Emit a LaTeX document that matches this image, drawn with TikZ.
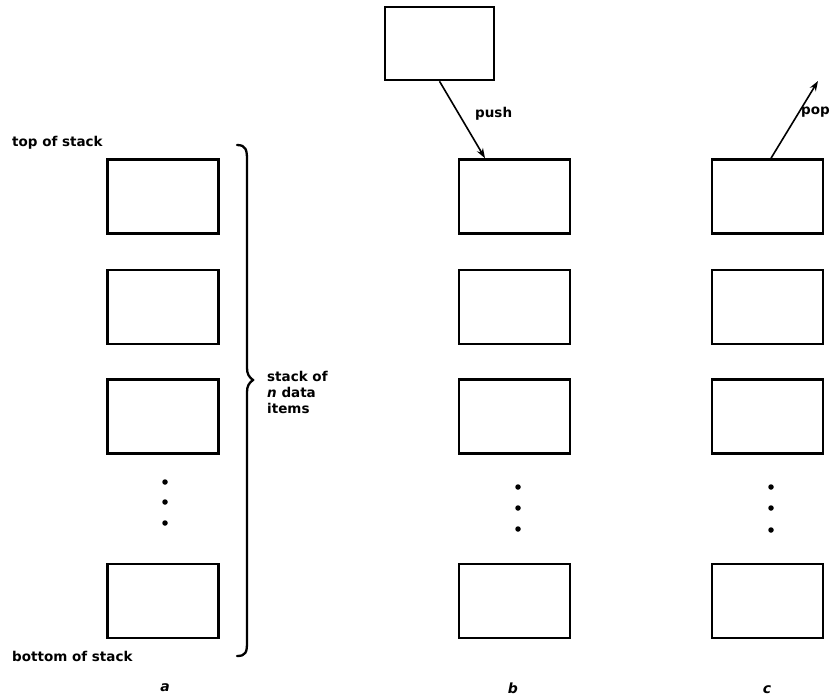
\documentclass[tikz,border=0pt]{standalone}
\usepackage{fontspec}
\setmainfont{DejaVu Sans}
\usetikzlibrary{arrows.meta,calc}
\begin{document}
\begin{tikzpicture}[x=1pt,y=-1pt,
  cell/.style={draw, line width=2.5pt, minimum width=111pt, minimum height=74pt, inner sep=0pt},
  lbl/.style={font=\fontsize{13.5}{16}\selectfont\bfseries, inner sep=0pt},
  sublbl/.style={font=\fontsize{14}{16}\selectfont\bfseries\itshape, inner sep=0pt},
  vdot/.style={circle, fill, inner sep=0pt, minimum size=5.5pt},
  arr/.style={line width=1.6pt, -{Stealth[length=10pt,width=7pt]}}]
\useasboundingbox (0,0) rectangle (835,698);
% column a
\node[cell] (a1) at (163,196.5) {};
\node[cell] (a2) at (163,307) {};
\node[cell] (a3) at (163,416.5) {};
\node[cell] (a4) at (163,601) {};
\node[vdot] (ad1) at (165,482) {};
\node[vdot] (ad2) at (165,502) {};
\node[vdot] (ad3) at (165,523) {};
% column b
\node[cell, minimum width=109pt, minimum height=73pt] (top) at (439.5,43.5) {};
\node[cell] (b1) at (514.5,196.5) {};
\node[cell] (b2) at (514.5,307) {};
\node[cell] (b3) at (514.5,416.5) {};
\node[cell] (b4) at (514.5,601) {};
\node[vdot] (bd1) at (518,487) {};
\node[vdot] (bd2) at (518,508) {};
\node[vdot] (bd3) at (518,529) {};
% column c
\node[cell] (c1) at (767.5,196.5) {};
\node[cell] (c2) at (767.5,307) {};
\node[cell] (c3) at (767.5,416.5) {};
\node[cell] (c4) at (767.5,601) {};
\node[vdot] (cd1) at (771,487) {};
\node[vdot] (cd2) at (771,508) {};
\node[vdot] (cd3) at (771,530) {};
% labels
\node[lbl, anchor=west] (tos) at (12,143) {top of stack};
\node[lbl, anchor=west] (bos) at (12,656) {bottom of stack};
\node[lbl, anchor=north west, align=left] (desc) at (267,371) {stack of\\\textit{n} data\\items};
\node[lbl, anchor=west] (pushl) at (475,114) {push};
\node[lbl, anchor=west] (popl) at (801,112) {pop};
\node[sublbl] (la) at (165,688) {a};
\node[sublbl] (lb) at (513,688) {b};
\node[sublbl] (lc) at (767,690) {c};
% brace
\draw[line width=2.3pt, line cap=round]
  (237,145) .. controls (246,145) and (247,150) .. (247,160)
  -- (247,368) .. controls (247,374) and (249,377) .. (253,380)
  .. controls (249,383) and (247,386) .. (247,392)
  -- (247,642) .. controls (247,652) and (246,656) .. (237,656);
% arrows
\coordinate (pushend) at ($(b1.north)+(-29.5,0)$);
\draw[arr] (top.south) -- (pushend);
\coordinate (popend) at (818,81);
\draw[arr] ($(c1.north)+(3.5,0)$) -- (popend);
\end{tikzpicture}
\end{document}
